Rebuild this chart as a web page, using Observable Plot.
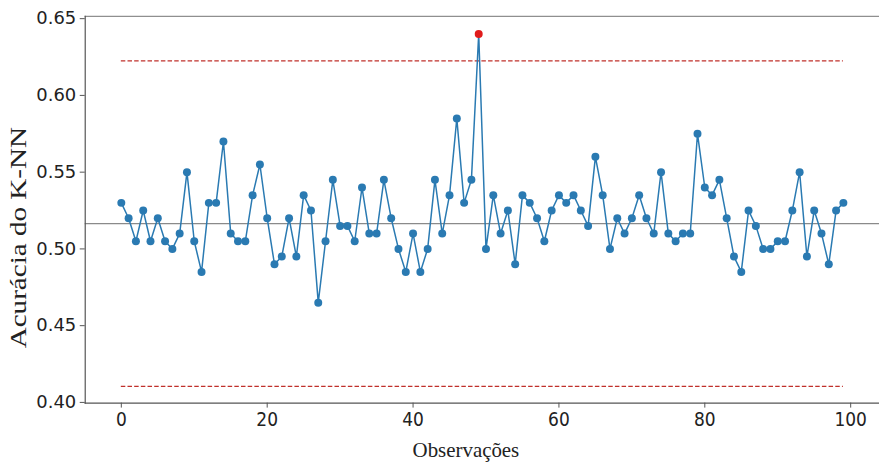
<!DOCTYPE html>
<html>
<head>
<meta charset="utf-8">
<script src="https://cdn.jsdelivr.net/npm/d3@7"></script>
<script src="https://cdn.jsdelivr.net/npm/@observablehq/plot@0.6"></script>
<style>
  html, body { margin: 0; padding: 0; background: #fff; overflow: hidden; }
  #chart { width: 879px; height: 464px; overflow: hidden; }
</style>
</head>
<body>
<div id="chart"></div>
<script>
const acuracia = [
  0.530, 0.520, 0.505, 0.525, 0.505, 0.520, 0.505, 0.500, 0.510, 0.550,
  0.505, 0.485, 0.530, 0.530, 0.570, 0.510, 0.505, 0.505, 0.535, 0.555,
  0.520, 0.490, 0.495, 0.520, 0.495, 0.535, 0.525, 0.465, 0.505, 0.545,
  0.515, 0.515, 0.505, 0.540, 0.510, 0.510, 0.545, 0.520, 0.500, 0.485,
  0.510, 0.485, 0.500, 0.545, 0.510, 0.535, 0.585, 0.530, 0.545, 0.640,
  0.500, 0.535, 0.510, 0.525, 0.490, 0.535, 0.530, 0.520, 0.505, 0.525,
  0.535, 0.530, 0.535, 0.525, 0.515, 0.560, 0.535, 0.500, 0.520, 0.510,
  0.520, 0.535, 0.520, 0.510, 0.550, 0.510, 0.505, 0.510, 0.510, 0.575,
  0.540, 0.535, 0.545, 0.520, 0.495, 0.485, 0.525, 0.515, 0.500, 0.500,
  0.505, 0.505, 0.525, 0.550, 0.495, 0.525, 0.510, 0.490, 0.525, 0.530
];
// Control lines
const linhaCentral = 0.5165;
const limiteSuperior = 0.6225;
const limiteInferior = 0.4105;
const limites = [limiteSuperior, limiteInferior];
// Ticks
const xTicks = [0, 20, 40, 60, 80, 100];
const yTicks = [0.40, 0.45, 0.50, 0.55, 0.60, 0.65];

const pontos = acuracia.map((v, i) => ({obs: i, acc: v, fora: v > limiteSuperior || v < limiteInferior}));
const primeiraObs = 0, ultimaObs = pontos.length - 1;

const xDomain = [-4.95, 103.95];
const yDomain = [0.39955, 0.65145];

const chart = Plot.plot({
  width: 882,
  height: 464,
  marginLeft: 85,
  marginRight: 0,
  marginTop: 16,
  marginBottom: 60,
  style: {fontFamily: "'DejaVu Sans', sans-serif", fontSize: "18px", color: "#222", background: "#fff"},
  x: {domain: xDomain, ticks: xTicks, tickFormat: d3.format("d"), label: "Observações"},
  y: {domain: yDomain, ticks: yTicks, tickFormat: d3.format(".2f"), label: "Acurácia do K-NN"},
  marks: [
    Plot.ruleY(limites, {x1: primeiraObs, x2: ultimaObs, stroke: "#c0302b", strokeWidth: 1.2, strokeDasharray: "4.5,2.2"}),
    Plot.ruleY([linhaCentral], {stroke: "#8a8a8a", strokeWidth: 1.2}),
    Plot.line(pontos, {x: "obs", y: "acc", stroke: "#2a7ab2", strokeWidth: 1.5}),
    Plot.dot(pontos, {x: "obs", y: "acc", r: 4, fill: d => d.fora ? "#e01b1b" : "#2a7ab2", stroke: "none"}),
    Plot.frame({anchor: "top", stroke: "#8f8f8f", strokeWidth: 1.2}),
    Plot.frame({anchor: "left", stroke: "#555", strokeWidth: 1.2}),
    Plot.frame({anchor: "bottom", stroke: "#555", strokeWidth: 1.2}),
    Plot.axisX({ticks: xTicks, tickFormat: d3.format("d"), tickSize: 5, tickPadding: 4, stroke: "#555",
      label: "Observações", labelAnchor: "center", labelArrow: "none", labelOffset: 54}),
    Plot.axisY({ticks: yTicks, tickFormat: d3.format(".2f"), tickSize: 5, tickPadding: 4, stroke: "#555",
      label: "Acurácia do K-NN", labelAnchor: "center", labelArrow: "none", labelOffset: 76})
  ]
});

document.getElementById("chart").appendChild(chart);

const svg = d3.select(chart);
// x tick labels look condensed in the original
svg.selectAll('g[aria-label="x-axis tick label"] text')
  .style("font-family", "'DejaVu Sans Condensed', 'DejaVu Sans', sans-serif")
  .style("font-size", "19px");

// Axis labels in serif, as in the original
svg.selectAll('g[aria-label="x-axis label"] text')
  .style("font-family", "'Liberation Serif', 'Times New Roman', serif")
  .style("font-size", "22px")
  .attr("fill", "#222")
  .each(function() {
    const t = d3.select(this);
    const tr = t.attr("transform") || "";
    // shift to the horizontal position seen in the original
    t.attr("transform", tr.replace(/translate\(([-\d.]+),([-\d.]+)\)/, (m, x, y) => `translate(467,${y})`))
     .attr("textLength", 107).attr("lengthAdjust", "spacingAndGlyphs");
  });
svg.selectAll('g[aria-label="y-axis label"] text')
  .style("font-family", "'Liberation Serif', 'Times New Roman', serif")
  .style("font-size", "24px")
  .attr("fill", "#222")
  .each(function() {
    const t = d3.select(this);
    const tr = t.attr("transform") || "";
    t.attr("transform", tr.replace(/translate\(([-\d.]+),([-\d.]+)\)/, (m, x, y) => `translate(${x},238)`))
     .attr("textLength", 222).attr("lengthAdjust", "spacingAndGlyphs");
  });
</script>
</body>
</html>
